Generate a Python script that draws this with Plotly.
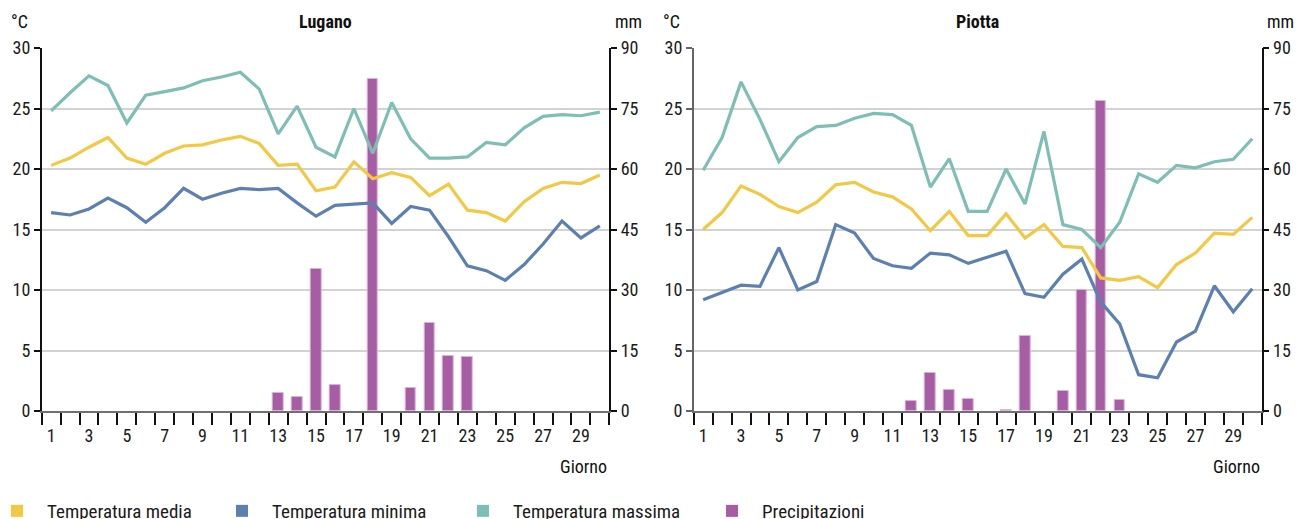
import plotly.graph_objects as go

days = list(range(1, 31))

lugano_media = [20.3, 20.9, 21.8, 22.6, 20.9, 20.4, 21.3, 21.9, 22.0, 22.4, 22.7, 22.1, 20.3, 20.4, 18.2,
                18.5, 20.6, 19.2, 19.7, 19.3, 17.8, 18.75, 16.6, 16.4, 15.7, 17.3, 18.4, 18.9, 18.8, 19.5]
lugano_minima = [16.4, 16.2, 16.7, 17.6, 16.8, 15.6, 16.8, 18.4, 17.5, 18.0, 18.4, 18.3, 18.4, 17.2, 16.1,
                 17.0, 17.1, 17.2, 15.5, 16.9, 16.6, 14.4, 12.0, 11.6, 10.8, 12.1, 13.8, 15.7, 14.3, 15.3]
lugano_massima = [24.8, 26.3, 27.7, 26.9, 23.8, 26.1, 26.4, 26.7, 27.3, 27.6, 28.0, 26.6, 22.9, 25.2, 21.8,
                  21.0, 25.0, 21.3, 25.5, 22.5, 20.9, 20.9, 21.0, 22.2, 22.0, 23.4, 24.35, 24.5, 24.4, 24.7]
lugano_prec = [0, 0, 0, 0, 0, 0, 0, 0, 0, 0, 0, 0, 4.5, 3.4, 35.1,
               6.4, 0, 82.4, 0, 5.7, 21.8, 13.7, 13.3, 0, 0, 0, 0, 0, 0, 0]

piotta_media = [15.0, 16.4, 18.6, 17.9, 16.9, 16.4, 17.25, 18.7, 18.9, 18.1, 17.7, 16.7, 14.9, 16.5, 14.5,
                14.5, 16.3, 14.3, 15.4, 13.6, 13.5, 11.0, 10.8, 11.1, 10.2, 12.1, 13.05, 14.7, 14.6, 16.0]
piotta_minima = [9.2, 9.8, 10.4, 10.3, 13.5, 10.0, 10.7, 15.4, 14.7, 12.6, 12.0, 11.8, 13.05, 12.9, 12.2,
                 12.7, 13.2, 9.7, 9.4, 11.3, 12.55, 9.0, 7.2, 3.0, 2.75, 5.7, 6.6, 10.35, 8.2, 10.1]
piotta_massima = [19.9, 22.6, 27.2, 24.1, 20.6, 22.6, 23.5, 23.6, 24.2, 24.6, 24.5, 23.6, 18.5, 20.85, 16.5,
                  16.5, 20.0, 17.1, 23.1, 15.4, 15.0, 13.5, 15.6, 19.6, 18.9, 20.3, 20.1, 20.6, 20.8, 22.5]
piotta_prec = [0, 0, 0, 0, 0, 0, 0, 0, 0, 0, 0, 2.4, 9.4, 5.1, 3.0,
               0, 0.3, 18.6, 0, 5.0, 30.0, 76.9, 2.8, 0, 0, 0, 0, 0, 0, 0]

temp_ticks = [0, 5, 10, 15, 20, 25, 30]
mm_ticks = [0, 15, 30, 45, 60, 75, 90]
day_labels = [d for d in days if d % 2 == 1]
titles = ["Lugano", "Piotta"]
legend_names = ["Temperatura media", "Temperatura minima", "Temperatura massima", "Precipitazioni"]

C_MEDIA = "#F4C843"
C_MIN = "#5B80B1"
C_MAX = "#7DBFB4"
C_PREC = "#A65DA4"
C_PREC_EDGE = "#D9B4D7"

FONT = "Roboto Condensed, Roboto, sans-serif"
FS = 18
W, H = 1296, 519

stations = [
    (lugano_media, lugano_minima, lugano_massima, lugano_prec),
    (piotta_media, piotta_minima, piotta_massima, piotta_prec),
]

fig = go.Figure()

for i, (med, mn, mx, pr) in enumerate(stations):
    xa = "x" if i == 0 else "x2"
    ymm = "y" if i == 0 else "y3"
    ytc = "y2" if i == 0 else "y4"
    fig.add_trace(go.Bar(x=days, y=pr, xaxis=xa, yaxis=ymm, width=0.56,
                         marker=dict(color=C_PREC,
                                     line=dict(color=C_PREC_EDGE, width=[1 if v > 0 else 0 for v in pr])),
                         showlegend=False, name="Precipitazioni"))
    for vals, col, nm in [(mx, C_MAX, "Temperatura massima"), (med, C_MEDIA, "Temperatura media"),
                          (mn, C_MIN, "Temperatura minima")]:
        fig.add_trace(go.Scatter(x=days, y=vals, xaxis=xa, yaxis=ytc, mode="lines",
                                 line=dict(color=col, width=3.2), showlegend=False, name=nm))

# legend entries (square symbols), each in its own legend for positioning
leg_cols = [C_MEDIA, C_MIN, C_MAX, C_PREC]
leg_x_px = [-13, 212, 453, 702]
for k, (nm, col) in enumerate(zip(legend_names, leg_cols)):
    lg = "legend" if k == 0 else f"legend{k+1}"
    fig.add_trace(go.Scatter(x=[None], y=[None], xaxis="x", yaxis="y2", mode="markers",
                             marker=dict(symbol="square", size=12, color=col),
                             name=nm, showlegend=True, legend=lg))
    fig.update_layout({lg: dict(x=leg_x_px[k] / W, xanchor="left", y=1 - 511 / H, yanchor="middle",
                                orientation="h", bgcolor="rgba(0,0,0,0)", itemwidth=50,
                                font=dict(family=FONT, size=19, color="#1a1a1a"))})

# geometry
x_domains = [[41.7 / W, 609.3 / W], [693.7 / W, 1261.7 / W]]
y_domain = [1 - 411 / H, 1 - 48 / H]
boundaries = [d - 0.5 for d in days] + [days[-1] + 0.5]

tickfont = dict(family=FONT, size=FS, color="#1a1a1a")
left_line_colors = ["#111111", "#666666"]

for i in range(2):
    xkey = "xaxis" if i == 0 else "xaxis2"
    ymm_key = "yaxis" if i == 0 else "yaxis3"
    ytc_key = "yaxis2" if i == 0 else "yaxis4"
    xa = "x" if i == 0 else "x2"
    ymm = "y" if i == 0 else "y3"
    fig.update_layout({
        xkey: dict(domain=x_domains[i], range=[0.5, 30.5], anchor=ymm, automargin=False,
                   tickmode="array", tickvals=day_labels, ticktext=[str(d) for d in day_labels],
                   ticks="", showgrid=False, zeroline=False, ticklabelstandoff=7,
                   showline=True, linecolor="#707070", linewidth=2,
                   minor=dict(tickmode="array", tickvals=boundaries, ticks="outside", ticklen=12,
                              tickcolor="#111111", tickwidth=1.5, showgrid=False),
                   tickfont=tickfont, fixedrange=True),
        ymm_key: dict(domain=y_domain, range=[0, 90], anchor=xa, side="right", automargin=False,
                      tickmode="array", tickvals=mm_ticks, ticks="outside", ticklen=6,
                      tickcolor="#111111", tickwidth=1.5,
                      showline=True, linecolor="#111111", linewidth=1.5,
                      showgrid=True, gridcolor="#D3D3D3", gridwidth=1.5, zeroline=False,
                      tickfont=tickfont, fixedrange=True),
        ytc_key: dict(domain=y_domain, range=[0, 30], anchor=xa, side="left", overlaying=ymm,
                      automargin=False,
                      tickmode="array", tickvals=temp_ticks, ticks="outside", ticklen=6,
                      tickcolor=left_line_colors[i], tickwidth=1.5,
                      showline=True, linecolor=left_line_colors[i], linewidth=1.5,
                      showgrid=False, zeroline=False, tickfont=tickfont, fixedrange=True),
    })

annotations = []
for i in range(2):
    xd = "x domain" if i == 0 else "x2 domain"
    afont = dict(family=FONT, size=FS, color="#111111")
    annotations.append(dict(text=f"<b>{titles[i]}</b>", xref=xd, x=0.5, yref="paper", y=1 - 22 / H,
                            xanchor="center", yanchor="middle", showarrow=False, font=afont))
    annotations.append(dict(text="°C", xref=xd, x=0, xshift=-22, yref="paper", y=1 - 22 / H,
                            xanchor="center", yanchor="middle", showarrow=False, font=afont))
    annotations.append(dict(text="mm", xref=xd, x=1, xshift=19, yref="paper", y=1 - 22 / H,
                            xanchor="center", yanchor="middle", showarrow=False, font=afont))
    annotations.append(dict(text="Giorno", xref=xd, x=1, yref="paper", y=1 - 466 / H,
                            xanchor="right", yanchor="middle", showarrow=False, font=afont))

fig.update_layout(
    width=W, height=H,
    margin=dict(l=0, r=0, t=0, b=0, autoexpand=False),
    paper_bgcolor="white", plot_bgcolor="white",
    bargap=0, barmode="overlay",
    annotations=annotations,
    font=dict(family=FONT, size=FS, color="#111111"),
)

fig.write_html("out.html", config={"displayModeBar": False},
               post_script="document.body.style.margin='0px';")
